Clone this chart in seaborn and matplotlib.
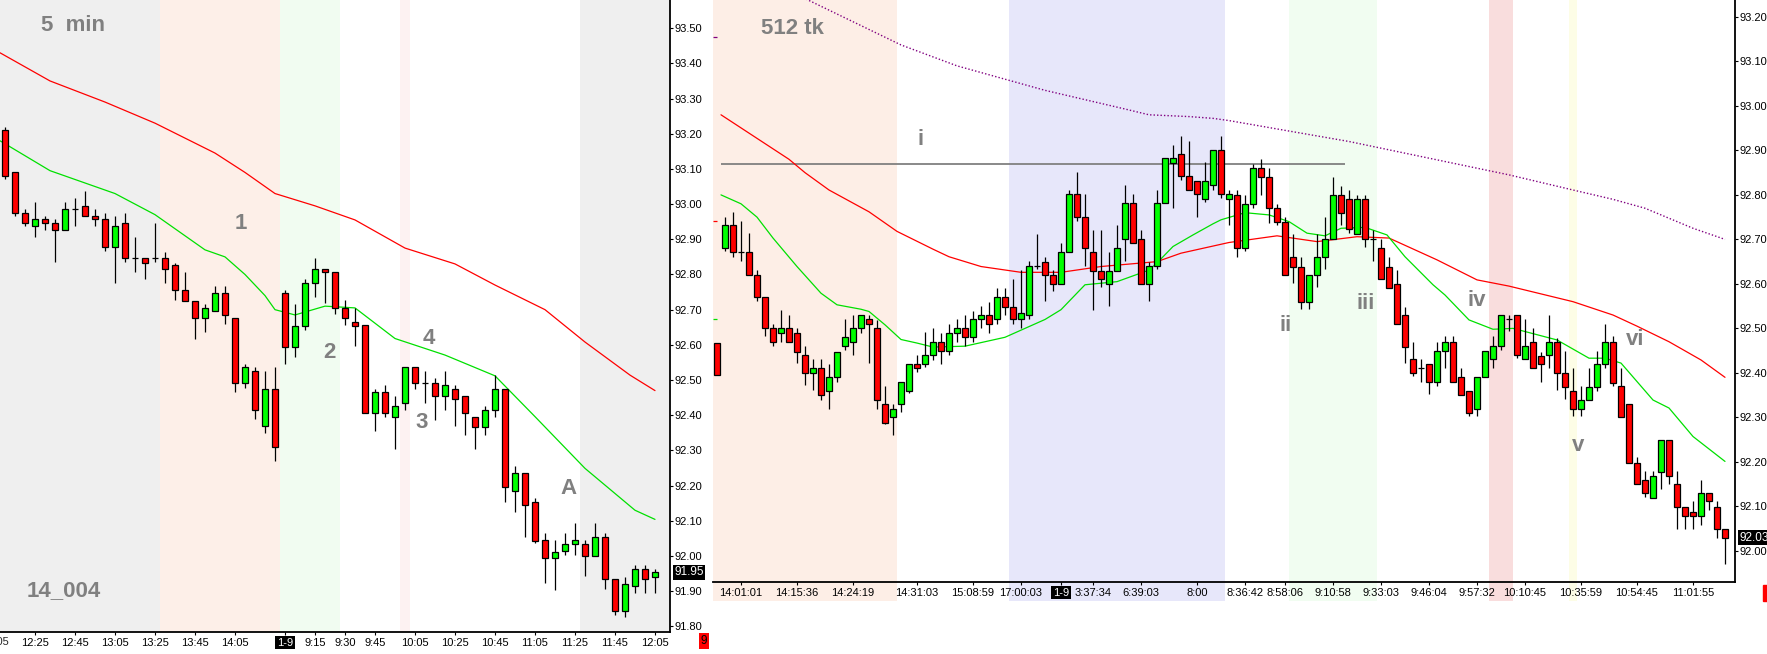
import matplotlib
matplotlib.use("Agg")
import matplotlib.pyplot as plt
from matplotlib.patches import Rectangle
import numpy as np
import seaborn as sns

# ---------------- left panel: 5 min bars (bar index 0 = 12:10) ----------------
left_open = [93.21, 93.09, 92.976, 92.937, 92.957, 92.945, 92.925, 92.986, 92.996, 92.965,
             92.957, 92.877, 92.945, 92.846, 92.846, 92.846, 92.846, 92.826, 92.755, 92.726,
             92.675, 92.695, 92.746, 92.675, 92.493, 92.525, 92.37, 92.474, 92.746, 92.595,
             92.654, 92.776, 92.815, 92.806, 92.706, 92.665, 92.656, 92.405, 92.465, 92.394,
             92.434, 92.536, 92.493, 92.493, 92.454, 92.474, 92.454, 92.394, 92.366, 92.414,
             92.474, 92.184, 92.235, 92.153, 92.045, 91.993, 92.013, 92.033, 92.033, 92.001,
             92.053, 91.934, 91.843, 91.914, 91.962, 91.941]
left_high = [93.22, 93.09, 92.986, 93.006, 92.967, 92.957, 93.006, 93.017, 93.037, 92.986,
             92.976, 92.967, 92.976, 92.907, 92.846, 92.945, 92.865, 92.834, 92.806, 92.726,
             92.715, 92.766, 92.766, 92.675, 92.545, 92.536, 92.525, 92.536, 92.756, 92.715,
             92.787, 92.846, 92.815, 92.806, 92.727, 92.706, 92.656, 92.474, 92.486, 92.455,
             92.536, 92.536, 92.526, 92.505, 92.526, 92.485, 92.454, 92.394, 92.425, 92.514,
             92.474, 92.256, 92.235, 92.164, 92.065, 92.045, 92.064, 92.093, 92.045, 92.093,
             92.064, 91.934, 91.941, 91.974, 91.974, 91.962]
left_low = [93.07, 92.967, 92.938, 92.907, 92.926, 92.836, 92.925, 92.938, 92.965, 92.938,
            92.867, 92.776, 92.836, 92.808, 92.787, 92.836, 92.776, 92.727, 92.726, 92.617,
            92.637, 92.695, 92.658, 92.467, 92.476, 92.39, 92.35, 92.27, 92.547, 92.566,
            92.642, 92.737, 92.718, 92.687, 92.656, 92.597, 92.405, 92.356, 92.396, 92.305,
            92.415, 92.475, 92.436, 92.386, 92.415, 92.368, 92.345, 92.305, 92.345, 92.396,
            92.154, 92.126, 92.055, 92.036, 91.924, 91.903, 92.003, 92.003, 91.944, 92.001,
            91.905, 91.832, 91.826, 91.896, 91.896, 91.896]
left_close = [93.08, 92.976, 92.945, 92.957, 92.945, 92.925, 92.986, 92.986, 92.965, 92.957,
              92.877, 92.937, 92.846, 92.846, 92.834, 92.846, 92.815, 92.755, 92.726, 92.675,
              92.706, 92.746, 92.684, 92.493, 92.536, 92.414, 92.474, 92.31, 92.595, 92.655,
              92.776, 92.815, 92.806, 92.706, 92.675, 92.654, 92.405, 92.465, 92.405, 92.425,
              92.536, 92.493, 92.493, 92.454, 92.485, 92.445, 92.405, 92.366, 92.414, 92.474,
              92.195, 92.235, 92.144, 92.044, 91.994, 92.012, 92.033, 92.045, 92.001, 92.053,
              91.934, 91.843, 91.921, 91.962, 91.934, 91.954]

left_red_ma_bar = [-0.5, 4.5, 10, 15, 21, 24, 27, 31, 35, 40, 45, 49, 54, 58, 62.5, 65]
left_red_ma = [93.43, 93.35, 93.29, 93.23, 93.145, 93.09, 93.03, 92.995, 92.955, 92.875,
               92.83, 92.77, 92.70, 92.608, 92.514, 92.47]
left_green_ma_bar = [-0.5, 4.5, 8, 11, 15, 20, 22, 24, 26, 27, 29, 32, 35, 39, 44, 49, 53, 58, 63, 65]
left_green_ma = [93.18, 93.095, 93.06, 93.03, 92.97, 92.87, 92.85, 92.80, 92.74, 92.70,
                 92.685, 92.71, 92.705, 92.618, 92.571, 92.512, 92.396, 92.249, 92.13, 92.104]

left_tick_bar = [3, 7, 11, 15, 19, 23, 28, 31, 34, 37, 41, 45, 49, 53, 57, 61, 65]
left_tick_lab = ["12:25", "12:45", "13:05", "13:25", "13:45", "14:05", "1-9", "9:15", "9:30",
                 "9:45", "10:05", "10:25", "10:45", "11:05", "11:25", "11:45", "12:05"]
left_last = 91.95

# ---------------- right panel: 512 tick bars (first entry = partial bar) ----------------
right_open = [92.467,
    92.680, 92.733, 92.671, 92.671, 92.620, 92.570, 92.500, 92.489, 92.500, 92.489,
    92.440, 92.399, 92.410, 92.360, 92.390, 92.461, 92.469, 92.500, 92.521, 92.500,
    92.330, 92.300, 92.330, 92.360, 92.420, 92.420, 92.44, 92.47, 92.45, 92.49,
    92.50, 92.48, 92.52, 92.53, 92.52, 92.570, 92.549, 92.52, 92.53, 92.640,
    92.650, 92.620, 92.600, 92.671, 92.802, 92.750, 92.671, 92.630, 92.600, 92.630,
    92.700, 92.781, 92.700, 92.600, 92.640, 92.781, 92.871, 92.892, 92.843, 92.831,
    92.790, 92.822, 92.900, 92.790, 92.80, 92.680, 92.78, 92.86, 92.84, 92.77,
    92.740, 92.660, 92.639, 92.560, 92.619, 92.660, 92.700, 92.80, 92.79, 92.712,
    92.79, 92.700, 92.680, 92.639, 92.599, 92.529, 92.431, 92.411, 92.420, 92.379,
    92.449, 92.469, 92.390, 92.359, 92.319, 92.390, 92.431, 92.460, 92.521, 92.529,
    92.431, 92.469, 92.439, 92.440, 92.469, 92.399, 92.360, 92.318, 92.339, 92.369,
    92.420, 92.469, 92.371, 92.330, 92.198, 92.159, 92.118, 92.178, 92.249, 92.150,
    92.098, 92.088, 92.079, 92.130, 92.098, 92.049]
right_high = [92.467,
    92.751, 92.762, 92.742, 92.714, 92.631, 92.570, 92.510, 92.542, 92.530, 92.500,
    92.461, 92.431, 92.431, 92.420, 92.448, 92.521, 92.530, 92.530, 92.530, 92.519,
    92.371, 92.330, 92.380, 92.420, 92.440, 92.491, 92.50, 92.49, 92.51, 92.52,
    92.53, 92.54, 92.55, 92.56, 92.590, 92.590, 92.611, 92.631, 92.652, 92.712,
    92.661, 92.631, 92.691, 92.811, 92.852, 92.802, 92.721, 92.721, 92.671, 92.732,
    92.822, 92.802, 92.721, 92.650, 92.811, 92.882, 92.912, 92.933, 92.921, 92.831,
    92.873, 92.900, 92.933, 92.811, 92.81, 92.80, 92.87, 92.88, 92.86, 92.78,
    92.75, 92.712, 92.660, 92.619, 92.712, 92.75, 92.84, 92.82, 92.81, 92.80,
    92.80, 92.721, 92.700, 92.660, 92.631, 92.549, 92.469, 92.431, 92.420, 92.469,
    92.482, 92.482, 92.412, 92.359, 92.390, 92.449, 92.482, 92.529, 92.529, 92.529,
    92.521, 92.500, 92.448, 92.53, 92.478, 92.449, 92.411, 92.371, 92.411, 92.449,
    92.510, 92.482, 92.411, 92.330, 92.210, 92.180, 92.180, 92.249, 92.249, 92.180,
    92.098, 92.111, 92.160, 92.130, 92.111, 92.049]
right_low = [92.395,
    92.673, 92.661, 92.652, 92.620, 92.562, 92.482, 92.461, 92.470, 92.469, 92.422,
    92.373, 92.362, 92.340, 92.319, 92.380, 92.452, 92.440, 92.490, 92.422, 92.319,
    92.285, 92.261, 92.311, 92.355, 92.403, 92.413, 92.43, 92.42, 92.44, 92.47,
    92.46, 92.47, 92.50, 92.49, 92.51, 92.53, 92.51, 92.50, 92.52, 92.633,
    92.562, 92.583, 92.600, 92.671, 92.742, 92.641, 92.542, 92.592, 92.551, 92.630,
    92.652, 92.691, 92.600, 92.562, 92.633, 92.781, 92.771, 92.834, 92.811, 92.751,
    92.783, 92.811, 92.793, 92.733, 92.661, 92.673, 92.77, 92.80, 92.737, 92.733,
    92.619, 92.602, 92.543, 92.543, 92.593, 92.633, 92.700, 92.733, 92.714, 92.712,
    92.682, 92.652, 92.611, 92.590, 92.509, 92.422, 92.392, 92.380, 92.352, 92.371,
    92.412, 92.379, 92.350, 92.302, 92.302, 92.390, 92.412, 92.452, 92.493, 92.433,
    92.431, 92.411, 92.380, 92.412, 92.362, 92.341, 92.302, 92.302, 92.339, 92.360,
    92.412, 92.371, 92.300, 92.198, 92.150, 92.120, 92.118, 92.139, 92.151, 92.049,
    92.049, 92.049, 92.058, 92.091, 92.030, 91.970]
right_close = [92.395,
    92.733, 92.671, 92.671, 92.620, 92.570, 92.500, 92.469, 92.500, 92.469, 92.448,
    92.399, 92.410, 92.350, 92.390, 92.448, 92.481, 92.500, 92.530, 92.509, 92.338,
    92.288, 92.319, 92.379, 92.420, 92.411, 92.440, 92.47, 92.45, 92.49, 92.50,
    92.48, 92.52, 92.53, 92.51, 92.570, 92.549, 92.52, 92.535, 92.640, 92.640,
    92.620, 92.600, 92.671, 92.802, 92.750, 92.680, 92.630, 92.610, 92.630, 92.680,
    92.781, 92.691, 92.600, 92.640, 92.781, 92.882, 92.882, 92.843, 92.811, 92.802,
    92.831, 92.900, 92.802, 92.802, 92.680, 92.78, 92.86, 92.84, 92.77, 92.740,
    92.619, 92.639, 92.560, 92.619, 92.660, 92.700, 92.80, 92.76, 92.723, 92.79,
    92.700, 92.700, 92.611, 92.590, 92.509, 92.459, 92.399, 92.411, 92.379, 92.449,
    92.469, 92.379, 92.350, 92.309, 92.390, 92.449, 92.460, 92.529, 92.521, 92.440,
    92.460, 92.411, 92.420, 92.469, 92.399, 92.369, 92.318, 92.339, 92.369, 92.420,
    92.469, 92.378, 92.300, 92.198, 92.150, 92.129, 92.169, 92.249, 92.169, 92.098,
    92.079, 92.079, 92.130, 92.111, 92.049, 92.029]

right_red_ma_bar = [-0.5, 8, 10, 13, 18, 21.5, 26, 28, 32, 37, 42, 47, 54, 57, 63, 69, 74,
                    79, 83, 89, 94, 98, 106, 111, 114, 118, 122, 125]
right_red_ma = [92.98, 92.88, 92.85, 92.811, 92.762, 92.718, 92.678, 92.661, 92.639, 92.626,
                92.626, 92.639, 92.650, 92.669, 92.693, 92.708, 92.695, 92.706, 92.703, 92.654,
                92.609, 92.595, 92.560, 92.530, 92.505, 92.470, 92.429, 92.390]
right_green_ma_bar = [-0.5, 2, 4, 6, 9, 12, 14, 17, 18, 20, 22, 24, 26, 30, 35, 40, 42, 45, 49,
                      53, 54, 56, 58.5, 61, 62, 65, 68, 70.5, 72.75, 75, 77, 80, 82.75, 85, 88.5,
                      90, 93, 96, 98.5, 104, 108, 110, 112, 116, 118, 121, 125]
right_green_ma = [92.800, 92.78, 92.75, 92.703, 92.639, 92.579, 92.553, 92.543, 92.538, 92.508,
                  92.475, 92.467, 92.458, 92.46, 92.48, 92.52, 92.542, 92.598, 92.605, 92.631,
                  92.647, 92.684, 92.710, 92.735, 92.744, 92.76, 92.755, 92.740, 92.714, 92.708,
                  92.725, 92.727, 92.710, 92.661, 92.598, 92.575, 92.519, 92.498, 92.500, 92.474,
                  92.433, 92.433, 92.422, 92.339, 92.321, 92.257, 92.201]
right_purple_ma_bar = [9, 22, 29, 40, 50, 53, 58, 61, 63, 78, 94, 98, 106, 111, 115, 121, 125]
right_purple_ma = [93.25, 93.137, 93.09, 93.035, 92.993, 92.980, 92.976, 92.972, 92.967, 92.92,
                   92.860, 92.845, 92.811, 92.790, 92.770, 92.725, 92.700]
# moving average ends left over from the partial bar
right_prev_ma = {"red": 92.742, "#00e000": 92.52, "#800080": 93.155}

right_tick_bar = [2, 9, 16, 24, 31, 37, 42, 46, 52, 59, 65, 70, 76, 82, 88, 94, 100, 107, 114, 121]
right_tick_lab = ["14:01:01", "14:15:36", "14:24:19", "14:31:03", "15:08:59", "17:00:03", "1-9",
                  "3:37:34", "6:39:03", "8:00", "8:36:42", "8:58:06", "9:10:58", "9:33:03",
                  "9:46:04", "9:57:32", "10:10:45", "10:35:59", "10:54:45", "11:01:55"]
right_level = 92.87
right_last = 92.03

GREY_TXT = "#808080"


def draw_candles(ax, x, o, h, l, c, width):
    x, o, h, l, c = map(np.asarray, (x, o, h, l, c))
    ax.vlines(x, l, h, color="black", lw=0.9, zorder=3)
    flat = np.isclose(o, c)
    body = ~flat
    cols = np.where(c > o, "#00ff00", "#ff0000")
    ax.bar(x[body], np.abs(c - o)[body], width, bottom=np.minimum(o, c)[body],
           color=cols[body], edgecolor="black", linewidth=0.9, zorder=4)
    ax.hlines(o[flat], x[flat] - width / 2, x[flat] + width / 2, color="black", lw=0.9, zorder=4)


def style_axes(ax, ylim, yticks, xlim, xticks, xlabels):
    ax.set_xlim(*xlim)
    ax.set_ylim(*ylim)
    ax.yaxis.tick_right()
    ax.set_yticks(yticks)
    ax.set_yticklabels([f"{t:.2f}" for t in yticks])
    ax.set_xticks(xticks)
    ax.set_xticklabels(xlabels)
    for s in ["top", "left"]:
        ax.spines[s].set_visible(False)
    for s in ["right", "bottom"]:
        ax.spines[s].set_visible(True)
        ax.spines[s].set_color("black")
        ax.spines[s].set_linewidth(1.3)
    ax.tick_params(axis="y", which="both", right=True, left=False, length=2.5, width=0.8,
                   pad=0.8, labelsize=8, colors="black")
    ax.tick_params(axis="x", bottom=True, length=2.5, width=0.8, pad=1.5, labelsize=8,
                   colors="black")
    ax.grid(False)
    ax.set_xlabel("")
    ax.set_ylabel("")
    for lab in ax.get_xticklabels():
        if lab.get_text() == "1-9":
            lab.set_color("white")
            lab.set_bbox(dict(facecolor="black", edgecolor="none", pad=1.2))


def price_box(ax, value, text):
    ax.annotate(text, xy=(1, value), xycoords=("axes fraction", "data"), xytext=(3, 0),
                textcoords="offset points", ha="left", va="center", fontsize=8.5,
                color="white", annotation_clip=False,
                bbox=dict(facecolor="black", edgecolor="none", pad=1.2))


sns.set_theme(style="white")
plt.rcParams["font.family"] = ["Liberation Sans", "DejaVu Sans"]

W, H = 1767, 654
fig = plt.figure(figsize=(W / 100, H / 100), dpi=100)
fig.patch.set_facecolor("white")
axL = fig.add_axes([0, 22 / H, 670 / W, 632 / H])
axR = fig.add_axes([713 / W, 72 / H, 1022 / W, 582 / H])

# ---------- left ----------
for a, b, col in [(-0.5, 15.5, "#efefef"), (15.5, 27.5, "#fdefe8"), (27.5, 33.5, "#f1fcf1"),
                  (39.5, 40.5, "#fdf2f2"), (57.5, 66.5, "#efefef")]:
    axL.axvspan(a, b, color=col, lw=0, zorder=0)
sns.lineplot(x=left_red_ma_bar, y=left_red_ma, ax=axL, color="red", lw=0.9, sort=False,
             estimator=None, zorder=2)
sns.lineplot(x=left_green_ma_bar, y=left_green_ma, ax=axL, color="#00e000", lw=0.9,
             sort=False, estimator=None, zorder=2)
draw_candles(axL, np.arange(len(left_open)), left_open, left_high, left_low, left_close, 0.62)
style_axes(axL, (91.784, 93.580), np.round(np.arange(91.8, 93.55, 0.1), 2), (-0.5, 66.5),
           left_tick_bar, left_tick_lab)
axL.annotate("12:05", xy=(-1, 0), xycoords=("data", "axes fraction"), xytext=(0, -3.6),
             textcoords="offset points", ha="center", va="top", fontsize=8,
             annotation_clip=False)
price_box(axL, 91.954, f"{left_last:.2f}")

for txt, xb, yp in [("5  min", 6.8, 93.508), ("14_004", 5.9, 91.903), ("1", 23.6, 92.946),
                    ("2", 32.4, 92.577), ("4", 42.4, 92.619), ("3", 41.7, 92.378),
                    ("A", 56.3, 92.193)]:
    axL.text(xb, yp, txt, ha="center", va="center", fontsize=16, fontweight="bold",
             color=GREY_TXT, zorder=5)

# ---------- right ----------
ext = -19 / 582
for a, b, col in [(-1.5, 21.5, "#fdeee6"), (35.5, 62.5, "#e7e7fa"), (70.5, 81.5, "#f1fdf1"),
                  (95.5, 98.5, "#f9dddd"), (105.5, 106.5, "#fdfde6")]:
    axR.axvspan(a, b, ymin=ext, ymax=1, color=col, lw=0, zorder=0, clip_on=False)

axR.hlines(right_level, -0.5, 77.5, color="#808080", lw=1.3, zorder=2)
sns.lineplot(x=right_purple_ma_bar, y=right_purple_ma, ax=axR, color="#800080", lw=1.0,
             linestyle=(0, (1, 1.5)), sort=False, estimator=None, zorder=2)
sns.lineplot(x=right_red_ma_bar, y=right_red_ma, ax=axR, color="red", lw=0.9, sort=False,
             estimator=None, zorder=2)
sns.lineplot(x=right_green_ma_bar, y=right_green_ma, ax=axR, color="#00e000", lw=0.9,
             sort=False, estimator=None, zorder=2)
for col, val in right_prev_ma.items():
    axR.hlines(val, -1.5, -0.95, color=col, lw=0.9, zorder=2)

right_x = np.arange(len(right_open)) - 1
draw_candles(axR, right_x, right_open, right_high, right_low, right_close, 0.66)
style_axes(axR, (91.930, 93.238), np.round(np.arange(92.0, 93.25, 0.1), 2), (-1.5, 126.25),
           right_tick_bar, right_tick_lab)
price_box(axR, right_last, f"{right_last:.2f}")

for txt, xb, yp in [("512 tk", 8.4, 93.175), ("i", 24.5, 92.924), ("ii", 70.1, 92.506),
                    ("iii", 80.1, 92.557), ("iv", 94.0, 92.562), ("v", 106.6, 92.236),
                    ("vi", 113.75, 92.476)]:
    axR.text(xb, yp, txt, ha="center", va="center", fontsize=16, fontweight="bold",
             color=GREY_TXT, zorder=5)

# small status markers
fig.text(704 / W, 1 - 641 / H, "9", ha="center", va="center", fontsize=8.5, color="black",
         bbox=dict(facecolor="#ff0000", edgecolor="none", pad=1.5))
fig.patches.append(Rectangle((1763 / W, 1 - 601 / H), 4 / W, 16 / H,
                             transform=fig.transFigure, color="#ff0000"))

fig.savefig("out.png", dpi=100)
